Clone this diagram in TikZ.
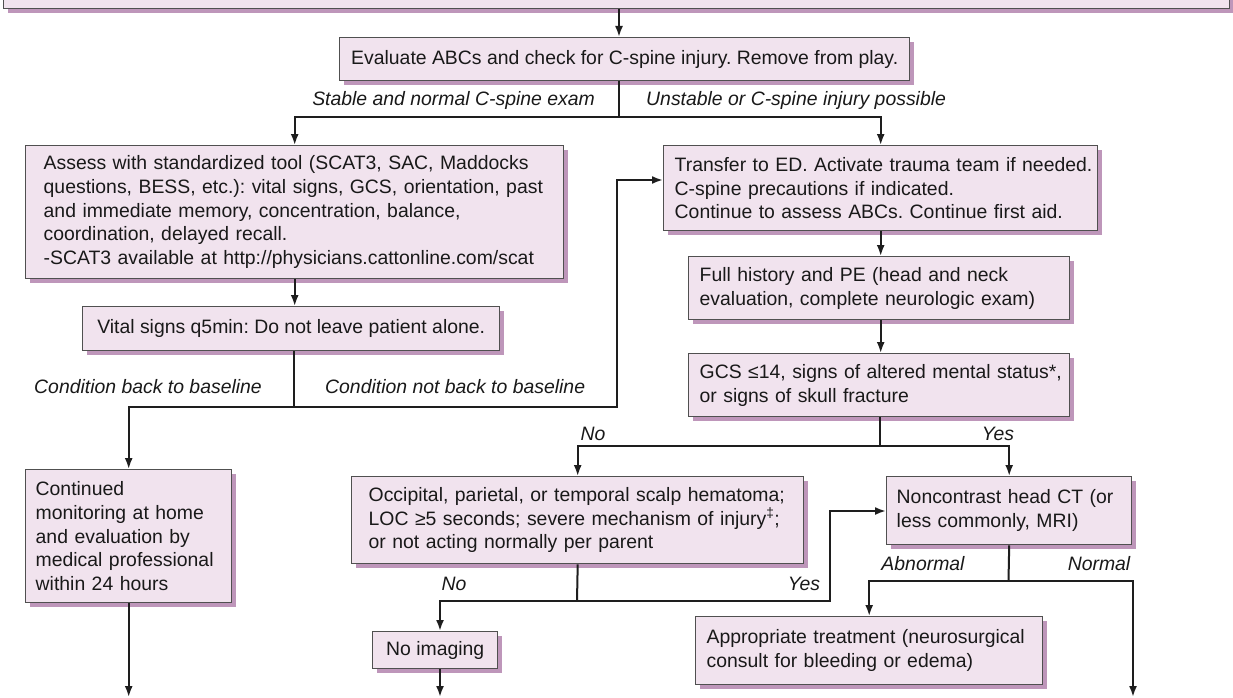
\documentclass[tikz,border=0pt]{standalone}
\usepackage{fontspec}
\setmainfont{Liberation Sans}
\usetikzlibrary{arrows.meta,shadows}
\definecolor{boxfill}{RGB}{241,227,238}
\definecolor{boxline}{RGB}{80,80,80}
\definecolor{shadowc}{RGB}{190,150,186}
\definecolor{linec}{RGB}{30,30,30}
\definecolor{txtc}{RGB}{25,25,25}
\frenchspacing
\begin{document}
\frenchspacing
\begin{tikzpicture}[x=1pt,y=-1pt,
  bx/.style={rectangle, draw=boxline, line width=1.4pt, fill=boxfill,
    drop shadow={shadow xshift=4.5pt, shadow yshift=-4.5pt, fill=shadowc, opacity=1},
    anchor=north west, inner ysep=0pt, align=left,
    font=\fontsize{19.4}{23.7}\selectfont, text=txtc},
  lbl/.style={font=\fontsize{19.4}{23.7}\selectfont\itshape, inner sep=0pt, text=txtc},
  ln/.style={line width=2pt, draw=linec},
  arr/.style={ln, -{Latex[length=11pt,width=8pt]}}
]
\fill[white] (0,0) rectangle (1233,698);
\useasboundingbox (0,0) rectangle (1233,698);
\clip (0,0) rectangle (1233,698);

% boxes
\node[bx, minimum width=1226pt, minimum height=50pt] (top) at (3,-42) {};
\node[bx, align=center, minimum width=570pt, minimum height=43pt, inner xsep=0pt] (eval) at (339,37)
  {Evaluate ABCs and check for C-spine injury. Remove from play.};
\node[bx, minimum width=538pt, minimum height=133pt, inner xsep=18pt, text width=502pt] (assess) at (25,145)
  {\mbox{Assess with standardized tool (SCAT3, SAC, Maddocks}\\
   \mbox{questions, BESS, etc.): vital signs, GCS, orientation, past}\\
   \mbox{and immediate memory, concentration, balance,}\\
   \mbox{coordination, delayed recall.}\\
   \mbox{-SCAT3 available at http://physicians.cattonline.com/scat}};
\node[bx, minimum width=434pt, minimum height=85pt, inner xsep=11pt, text width=412pt] (transfer) at (663,145)
  {\mbox{Transfer to ED. Activate trauma team if needed.}\\
   \mbox{C-spine precautions if indicated.}\\
   \mbox{Continue to assess ABCs. Continue first aid.}};
\node[bx, align=center, minimum width=417pt, minimum height=44pt, inner xsep=0pt] (vital) at (82,306)
  {Vital signs q5min: Do not leave patient alone.};
\node[bx, minimum width=381pt, minimum height=63pt, inner xsep=11pt, text width=359pt] (full) at (688,256)
  {\mbox{Full history and PE (head and neck}\\
   \mbox{evaluation, complete neurologic exam)}};
\node[bx, minimum width=381pt, minimum height=63pt, inner xsep=11pt, text width=359pt] (gcs) at (688,353)
  {\mbox{GCS ≤14, signs of altered mental status*,}\\
   \mbox{or signs of skull fracture}};
\node[bx, minimum width=206pt, minimum height=133pt, inner xsep=10pt, text width=186pt] (cont) at (25,469)
  {\mbox{Continued}\\ \mbox{monitoring at home}\\ \mbox{and evaluation by}\\
   \mbox{medical professional}\\ \mbox{within 24 hours}};
\node[bx, minimum width=452pt, minimum height=87pt, inner xsep=17pt, text width=418pt] (occ) at (351,476)
  {\mbox{Occipital, parietal, or temporal scalp hematoma;}\\
   \mbox{LOC ≥5 seconds; severe mechanism of injury\textsuperscript{‡};}\\
   \mbox{or not acting normally per parent}};
\node[bx, minimum width=245pt, minimum height=68pt, inner xsep=10pt, text width=225pt] (nct) at (886,476)
  {\mbox{Noncontrast head CT (or}\\ \mbox{less commonly, MRI)}};
\node[bx, minimum width=347pt, minimum height=68pt, inner xsep=11pt, text width=325pt] (appr) at (695,616)
  {\mbox{Appropriate treatment (neurosurgical}\\ \mbox{consult for bleeding or edema)}};
\node[bx, align=center, minimum width=125pt, minimum height=37pt, inner xsep=0pt] (noimg) at (372,631)
  {No imaging};

% junction coordinates
\coordinate (c1) at (619,0);
\coordinate (j1) at (619,117);
\coordinate (j2) at (294,407);
\coordinate (lp) at (617,180);
\coordinate (j3) at (880,446);
\coordinate (j4) at (577,601);
\coordinate (cN) at (440,0);
\coordinate (ly) at (830,511);
\coordinate (j5) at (1008.5,581);
\coordinate (bot) at (0,697);
\coordinate (outR) at (1133,697);

% connectors
\draw[arr] (top.south -| c1) -- (eval.north -| c1);
\draw[ln] (eval.south -| c1) -- (j1);
\draw[arr] (j1) -| (assess.north);
\draw[arr] (j1) -| (transfer.north);
\draw[arr] (assess.south) -- (assess.south |- vital.north);
\draw[ln] (vital.south -| j2) -- (j2);
\draw[arr] (j2) -| (cont.north);
\draw[arr] (j2) -| (lp) -- (transfer.west |- lp);
\draw[arr] (transfer.south) -- (transfer.south |- full.north);
\draw[arr] (full.south -| transfer.south) -- (transfer.south |- gcs.north);
\draw[ln] (gcs.south -| j3) -- (j3);
\draw[arr] (j3) -| (occ.north);
\draw[arr] (j3) -| (nct.north);
\draw[ln] (occ.south) -- (j4);
\draw[arr] (j4) -| (noimg.north -| cN);
\draw[arr] (j4) -| (ly) -- (nct.west |- ly);
\draw[ln] (nct.south) -- (j5);
\draw[arr] (j5) -| (appr.north);
\draw[arr] (j5) -| (outR);
\draw[arr] (cont.south) -- (cont.south |- bot);
\draw[arr] (noimg.south -| cN) -- (cN |- bot);

% labels
\node[lbl, anchor=east] (lstable) at (595,100) {Stable and normal C-spine exam};
\node[lbl, anchor=west] (lunst) at (646,100) {Unstable or C-spine injury possible};
\node[lbl, anchor=east] (lback) at (262,387) {Condition back to baseline};
\node[lbl, anchor=west] (lnot) at (325,387) {Condition not back to baseline};
\node[lbl] (lno1) at (593,434) {No};
\node[lbl] (lyes1) at (998,434) {Yes};
\node[lbl] (lno2) at (454,584) {No};
\node[lbl] (lyes2) at (804,584) {Yes};
\node[lbl] (labn) at (923,564) {Abnormal};
\node[lbl] (lnorm) at (1099,564) {Normal};
\end{tikzpicture}
\end{document}
